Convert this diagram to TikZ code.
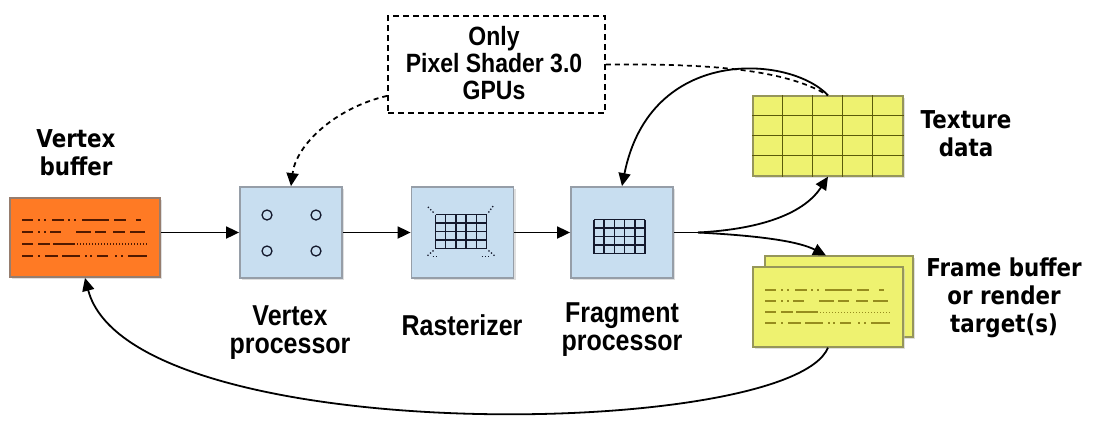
\documentclass[tikz,border=0pt]{standalone}
\usepackage{fontspec}
\usepackage{graphicx}
\setmainfont{Liberation Sans}
\newfontfamily\wideface{DejaVu Sans}
\newfontfamily\narrowface{Liberation Sans}
\usetikzlibrary{arrows.meta,calc,shadows}

\definecolor{procfill}{RGB}{200,222,240}
\definecolor{procdraw}{RGB}{150,158,168}
\definecolor{vbfill}{RGB}{255,122,36}
\definecolor{vbdraw}{RGB}{150,125,110}
\definecolor{texfill}{RGB}{238,242,112}
\definecolor{texgrid}{RGB}{90,90,10}
\definecolor{texdraw}{RGB}{150,150,90}
\definecolor{vbink}{RGB}{80,25,0}
\definecolor{fbink}{RGB}{150,140,30}
\definecolor{gridink}{RGB}{20,25,45}

% wide bold labels (buffers, texture)
\newcommand{\widelabel}[1]{\scalebox{1}[1.15]{\wideface\bfseries\fontsize{21.4}{24.5}\selectfont\begin{tabular}{@{}c@{}}#1\end{tabular}}}
% labels of the processing stages
\newcommand{\stagelabel}[1]{\scalebox{1}[1.15]{\narrowface\bfseries\fontsize{25}{24.5}\selectfont\begin{tabular}{@{}c@{}}#1\end{tabular}}}
% text of the dashed note
\newcommand{\notelabel}[1]{\scalebox{1}[1.15]{\narrowface\bfseries\fontsize{23}{22.6}\selectfont\begin{tabular}{@{}c@{}}#1\end{tabular}}}

\begin{document}
\begin{tikzpicture}[x=1pt,y=-1pt,
  boxshadow/.style={drop shadow={shadow xshift=2pt,shadow yshift=-2pt,fill=black!25,opacity=0.5}},
  procbox/.style={draw=procdraw,line width=1.8pt,fill=procfill,minimum width=102pt,minimum height=91pt,inner sep=0pt,boxshadow},
  vbbox/.style={draw=vbdraw,line width=1.8pt,fill=vbfill,minimum width=150pt,minimum height=79pt,inner sep=0pt,boxshadow},
  sheet/.style={draw=texdraw,line width=1.3pt,fill=texfill,minimum width=150pt,minimum height=80pt,inner sep=0pt,boxshadow},
  notebox/.style={draw=black,line width=1.7pt,dash pattern=on 6pt off 4pt,minimum width=217pt,minimum height=97pt,inner sep=0pt},
  txt/.style={inner sep=0pt,anchor=center},
  flow/.style={draw=black,line width=1.8pt,-{Triangle[length=13pt,width=12pt]}},
  dflow/.style={flow,dash pattern=on 5pt off 4pt},
  vbline/.style={draw=vbink,line width=1.6pt},
  fbline/.style={draw=fbink,line width=1.3pt},
  gridline/.style={draw=gridink,line width=1.5pt}
]
\useasboundingbox (0,0) rectangle (1094,421);

% ---- boxes ----
\node[vbbox]   (vb)   at (85,237.5)  {};
\node[procbox] (vp)   at (291,232.5) {};
\node[procbox] (ras)  at (462.5,232.5) {};
\node[procbox] (frag) at (622,232.5) {};
\node[sheet]   (tex)  at (828,136) {};
\node[sheet,minimum width=148pt,minimum height=81pt] (fbback) at (839,296.5) {};
\node[sheet]   (fbfront) at (828,307) {};
\node[notebox] (note) at (496.5,64.5) {};

% ---- labels ----
\node[txt] (vblabel)   at (76,156)    {\widelabel{Vertex\\buffer}};
\node[txt] (texlabel)  at (966,137)   {\widelabel{Texture\\data}};
\node[txt] (fblabel)   at (1004,299)  {\widelabel{Frame buffer\\or render\\target(s)}};
\node[txt] (vplabel)   at (290,333.5) {\stagelabel{Vertex\\processor}};
\node[txt] (raslabel)  at (462,329.5) {\stagelabel{Rasterizer}};
\node[txt] (fraglabel) at (622,331)   {\stagelabel{Fragment\\processor}};
\node[txt] (notetext)  at (494,66.8)  {\notelabel{Only\\Pixel Shader 3.0\\GPUs}};

% ---- vertex buffer contents ----
\begin{scope}[shift={(vb.center)}]
  \draw[vbline,dash pattern=on 11pt off 5pt on 2pt off 4pt on 2pt off 6pt on 12pt off 4pt on 2pt off 4pt on 2pt off 6pt on 27pt off 5pt on 12pt off 10pt on 5pt off 50pt] (-63,-17.5) -- (62,-17.5);
  \draw[vbline,dash pattern=on 11pt off 5pt on 2pt off 4pt on 2pt off 4pt on 11pt off 15pt on 15pt off 4pt on 11pt off 7pt on 12pt off 5pt on 15pt off 50pt] (-63,-5.5) -- (62,-5.5);
  \draw[vbline,dash pattern=on 11pt off 5pt on 12pt off 3pt on 22pt off 50pt] (-63,6.5) -- (-10,6.5);
  \draw[vbline,line width=1.2pt,dash pattern=on 1.2pt off 1.8pt] (-8,6.5) -- (62,6.5);
  \draw[vbline,dash pattern=on 11pt off 5pt on 2pt off 5pt on 13pt off 4pt on 18pt off 5pt on 2pt off 3pt on 2pt off 5pt on 11pt off 7pt on 2pt off 4pt on 2pt off 5pt on 19pt off 50pt] (-63,18.5) -- (62,18.5);
\end{scope}

% ---- vertex processor: four vertices ----
\begin{scope}[shift={(vp.center)}]
  \foreach \px/\py in {-24/-17.5,25/-17.5,-24/18.5,25/18.5}
    \draw[gridink,line width=1.3pt] (\px,\py) circle[radius=5pt];
\end{scope}

% ---- rasterizer: grid with corner marks ----
\begin{scope}[shift={(ras.center)}]
  \foreach \i in {0,...,5} \draw[gridline] (-27+10.2*\i,-18) -- (-27+10.2*\i,16);
  \foreach \j in {0,...,4} \draw[gridline] (-27,-18+8.5*\j) -- (24,-18+8.5*\j);
  \draw[gridline,line width=1.3pt,dotted] (-29,-20) -- (-36,-27);
  \draw[gridline,line width=1.3pt,dotted] (26,-20) -- (31,-27);
  \draw[gridline,line width=1.3pt,dotted] (-29,18) -- (-36,24);
  \draw[gridline,line width=1.3pt,dotted] (26,18) -- (33,24);
  \draw[gridline,line width=1.3pt,dotted] (-30,24) -- (-24,24);
  \draw[gridline,line width=1.3pt,dotted] (19,24) -- (26,24);
\end{scope}

% ---- fragment processor: grid ----
\begin{scope}[shift={(frag.center)}]
  \foreach \i in {0,...,5} \draw[gridline] (-28+10.2*\i,-13) -- (-28+10.2*\i,21);
  \foreach \j in {0,...,4} \draw[gridline] (-28,-13+8.5*\j) -- (23,-13+8.5*\j);
\end{scope}

% ---- texture grid ----
\foreach \i in {1,...,4}
  \draw[texgrid,line width=1.4pt] ($(tex.north west)+(30*\i,0)$) -- ($(tex.south west)+(30*\i,0)$);
\foreach \j in {1,2,3}
  \draw[texgrid,line width=1.4pt] ($(tex.north west)+(0,20*\j)$) -- ($(tex.north east)+(0,20*\j)$);

% ---- frame buffer contents ----
\begin{scope}[shift={(fbfront.center)}]
  \draw[fbline,dash pattern=on 11pt off 5pt on 2pt off 4pt on 2pt off 6pt on 12pt off 4pt on 2pt off 4pt on 2pt off 6pt on 27pt off 5pt on 12pt off 10pt on 5pt off 50pt] (-63,-17) -- (62,-17);
  \draw[fbline,dash pattern=on 11pt off 5pt on 2pt off 4pt on 2pt off 4pt on 11pt off 15pt on 15pt off 4pt on 11pt off 7pt on 12pt off 5pt on 15pt off 50pt] (-63,-6) -- (62,-6);
  \draw[fbline,dash pattern=on 11pt off 5pt on 12pt off 3pt on 22pt off 50pt] (-63,5) -- (-10,5);
  \draw[fbline,line width=1pt,dash pattern=on 1pt off 2pt] (-8,5) -- (62,5);
  \draw[fbline,dash pattern=on 11pt off 5pt on 2pt off 5pt on 13pt off 4pt on 18pt off 5pt on 2pt off 3pt on 2pt off 5pt on 11pt off 7pt on 2pt off 4pt on 2pt off 5pt on 19pt off 50pt] (-63,16) -- (62,16);
\end{scope}

% ---- connectors ----
\coordinate (split) at (698,232.5);
\coordinate (fbtop) at (826,255.5);
\coordinate (noteleft) at ($(note.south west)+(0,-18)$);

\draw[flow] (vb.east |- vp.west) -- (vp.west);
\draw[flow] (vp.east) -- (ras.west);
\draw[flow] (ras.east) -- (frag.west);
\draw[line width=1.8pt] (frag.east) -- (split);
\draw[flow] (split) .. controls (765,229) and (805,212) .. (tex.south);
\draw[flow] (split) .. controls (765,236) and (800,242) .. (fbtop);
\draw[flow] (tex.north) .. controls (790,55) and (650,45) .. (frag.north);
\draw[flow] (fbfront.south) .. controls (790,440) and (130,450) .. (vb.south);
\draw[dflow] (noteleft) .. controls (335,108) and (296,145) .. (vp.north);
\draw[line width=1.7pt,dash pattern=on 5pt off 4pt] (note.east) .. controls (690,64) and (780,66) .. (tex.north);
\end{tikzpicture}
\end{document}
